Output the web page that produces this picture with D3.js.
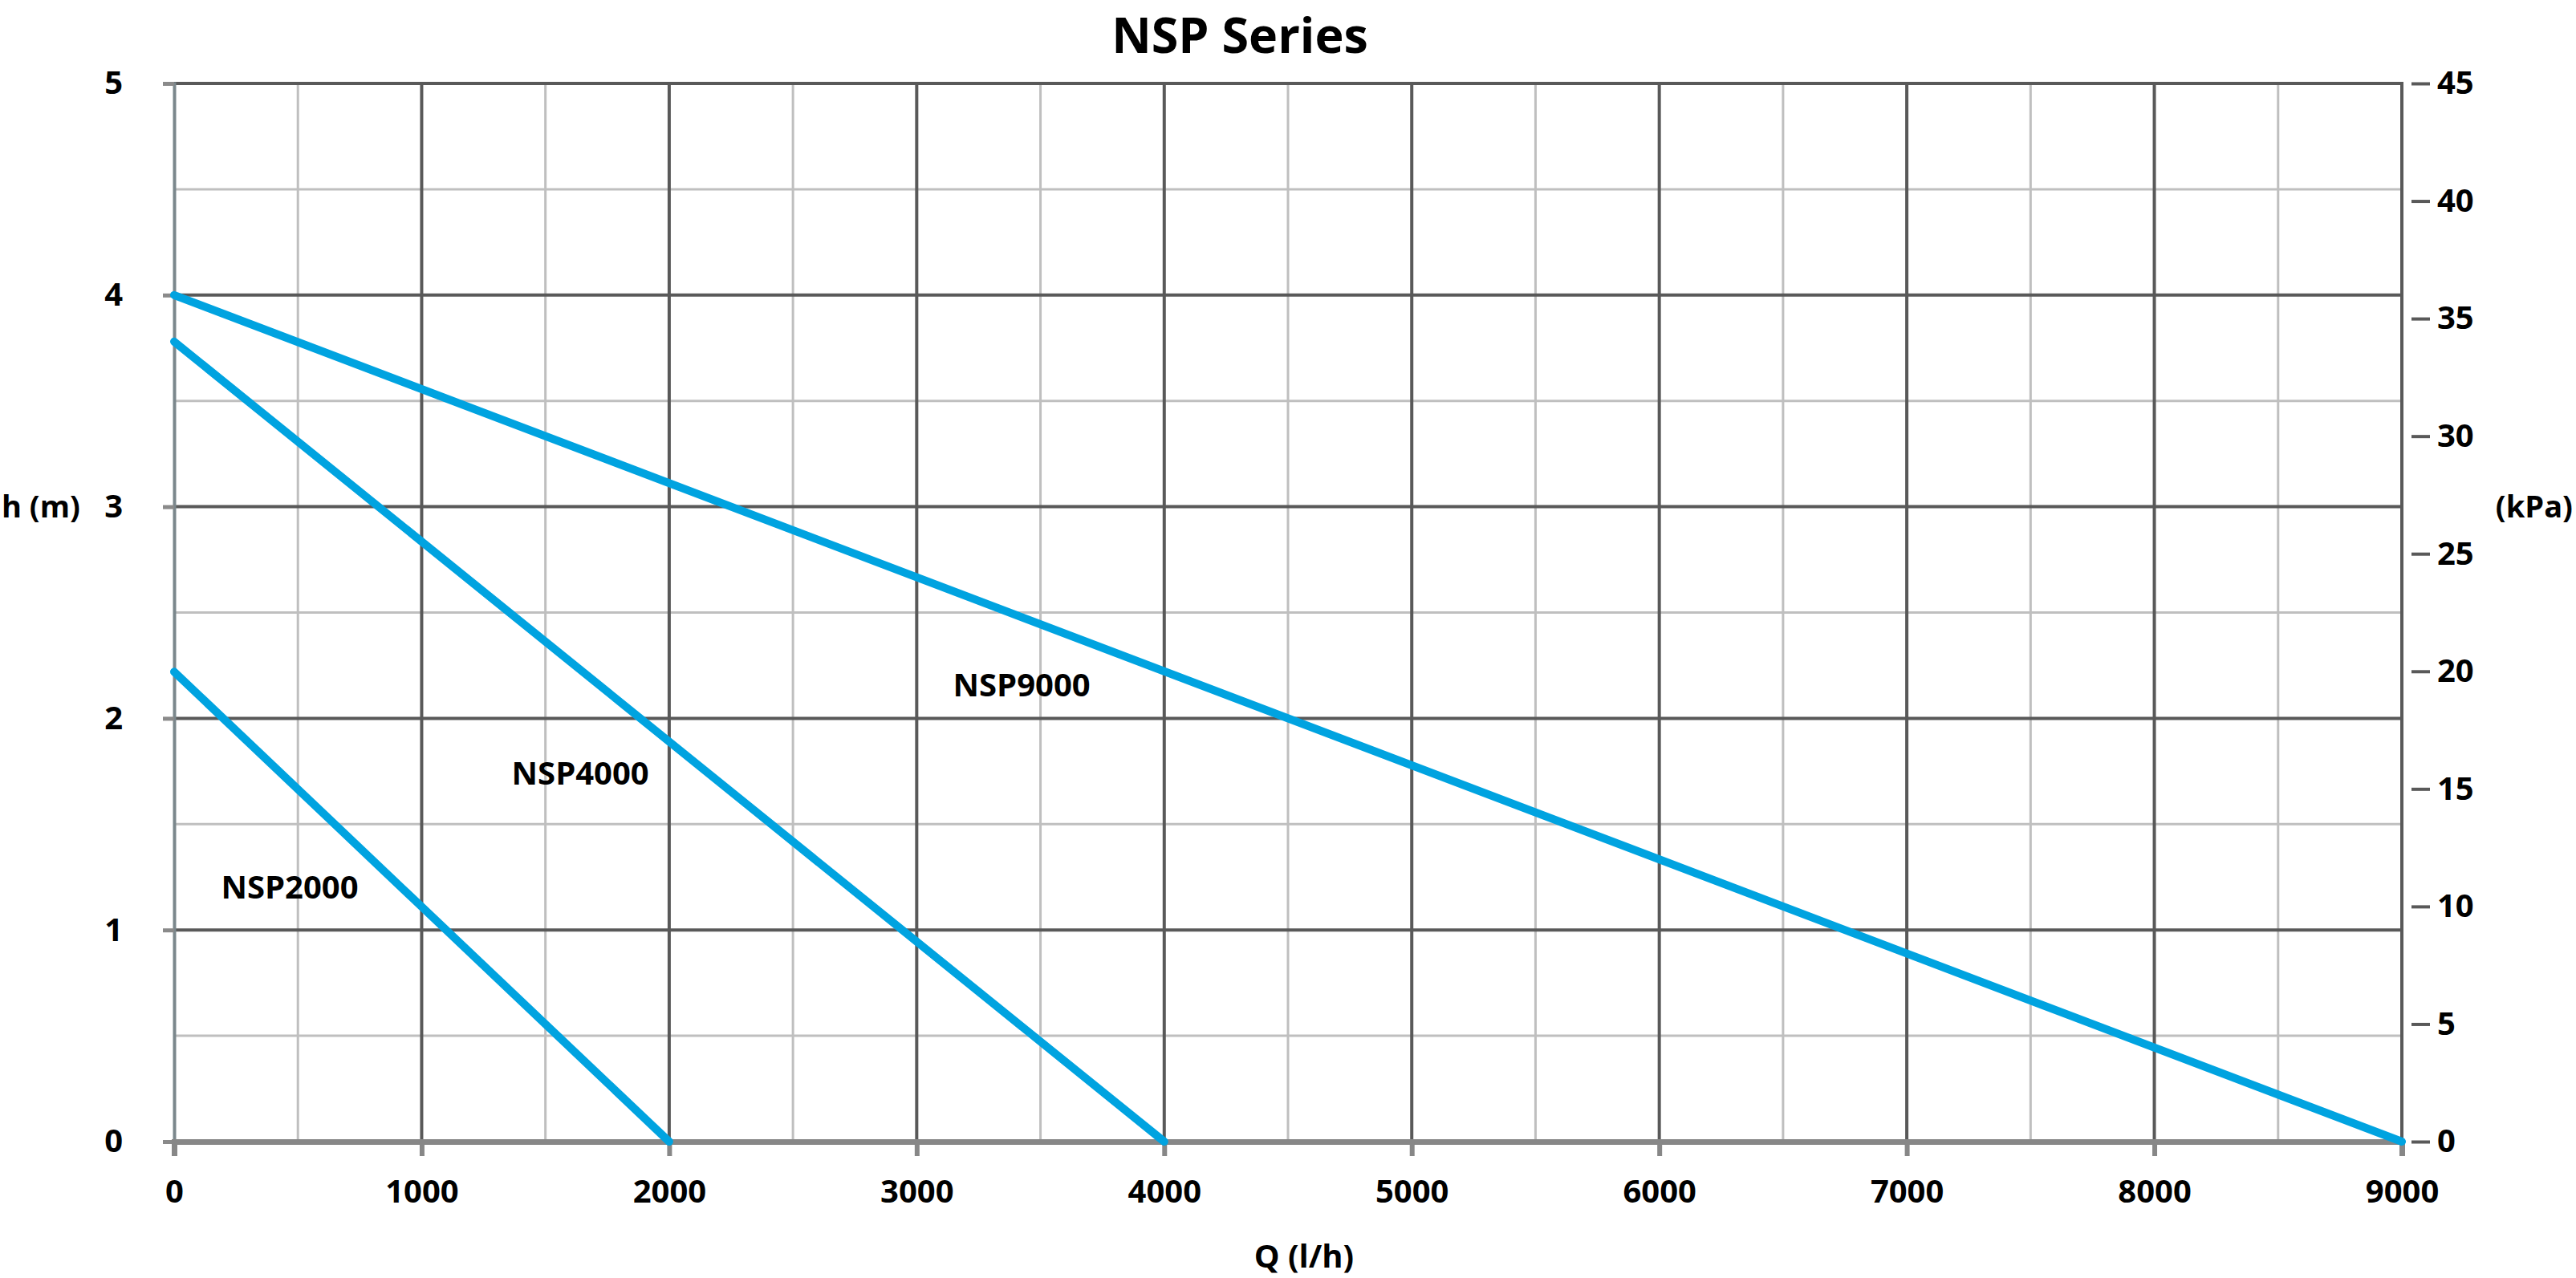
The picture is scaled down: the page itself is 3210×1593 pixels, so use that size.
<!DOCTYPE html>
<html>
<head>
<meta charset="utf-8">
<script src="https://cdn.jsdelivr.net/npm/d3@7"></script>
<style>
  body { margin: 0; background: #fff; }
  text { font-family: "Open Sans", sans-serif; font-weight: bold; fill: #000; }
</style>
</head>
<body>
<div id="chart"></div>
<script>
// pump curves, Q in l/h, h in m
const series = ["NSP2000", "NSP4000", "NSP9000"];
const flowQ = [
  [0, 2000],
  [0, 4000],
  [0, 9000]
];
const headH = [
  [2.22, 0],
  [3.78, 0],
  [4.0, 0]
];
// where the curve names sit (Q, h)
const labelQ = [467, 1641, 3424];
const labelH = [1.2, 1.74, 2.157];

const xTicks = d3.range(0, 9001, 1000);
const yTicks = [0, 1, 2, 3, 4, 5];
const kpaTicks = [0, 5, 10, 15, 20, 25, 30, 35, 40, 45];

const width = 3210, height = 1593;
const plotL = 217, plotR = 2993, plotT = 104, plotB = 1423;

const svg = d3.select("#chart").append("svg")
  .attr("width", width)
  .attr("height", height);

const x = d3.scaleLinear().domain([0, 9000]).range([plotL, plotR]);
const y = d3.scaleLinear().domain([0, 5]).range([plotB, plotT]);
const yk = d3.scaleLinear().domain([0, 45]).range([plotB, plotT]);

// minor grid
svg.append("g")
  .selectAll("line")
  .data(d3.range(500, 9000, 1000))
  .join("line")
  .attr("x1", d => x(d)).attr("x2", d => x(d))
  .attr("y1", plotT).attr("y2", plotB)
  .attr("stroke", "#bfbfbf").attr("stroke-width", 3);

svg.append("g")
  .selectAll("line")
  .data(d3.range(0.5, 5, 1))
  .join("line")
  .attr("x1", plotL).attr("x2", plotR)
  .attr("y1", d => y(d)).attr("y2", d => y(d))
  .attr("stroke", "#bfbfbf").attr("stroke-width", 3);

// major grid
svg.append("g")
  .selectAll("line")
  .data(xTicks.slice(1))
  .join("line")
  .attr("x1", d => x(d)).attr("x2", d => x(d))
  .attr("y1", plotT).attr("y2", plotB)
  .attr("stroke", "#595959").attr("stroke-width", 4);

svg.append("g")
  .selectAll("line")
  .data(yTicks.slice(1))
  .join("line")
  .attr("x1", plotL).attr("x2", plotR)
  .attr("y1", d => y(d)).attr("y2", d => y(d))
  .attr("stroke", "#595959").attr("stroke-width", 4);

// left axis
const yAxis = svg.append("g")
  .attr("transform", `translate(${plotL},0)`)
  .call(d3.axisLeft(y).tickValues(yTicks).tickSize(14).tickPadding(50).tickFormat(d3.format("d")));
yAxis.select(".domain").attr("stroke", "#7b878c").attr("stroke-width", 4);
yAxis.selectAll(".tick line").attr("stroke", "#8a8a8a").attr("stroke-width", 5);
yAxis.selectAll(".tick text").attr("font-size", 40).attr("font-family", "Open Sans").attr("font-weight", "bold").attr("fill", "#000");

// bottom axis
const xAxis = svg.append("g")
  .attr("transform", `translate(0,${plotB})`)
  .call(d3.axisBottom(x).tickValues(xTicks).tickSize(18).tickPadding(30).tickFormat(d3.format("d")));
xAxis.select(".domain").attr("stroke", "#878787").attr("stroke-width", 7);
xAxis.selectAll(".tick line").attr("stroke", "#878787").attr("stroke-width", 6);
xAxis.selectAll(".tick text").attr("font-size", 40).attr("font-family", "Open Sans").attr("font-weight", "bold").attr("fill", "#000");

// right border + kPa axis
svg.append("line")
  .attr("x1", plotR).attr("x2", plotR)
  .attr("y1", plotT - 2).attr("y2", plotB)
  .attr("stroke", "#595959").attr("stroke-width", 4);

const kAxis = svg.append("g")
  .attr("transform", `translate(${plotR + 12},0)`)
  .call(d3.axisRight(yk).tickValues(kpaTicks).tickSize(23).tickPadding(9));
kAxis.select(".domain").remove();
kAxis.selectAll(".tick line").attr("stroke", "#595959").attr("stroke-width", 4);
kAxis.selectAll(".tick text").attr("font-size", 40).attr("font-family", "Open Sans").attr("font-weight", "bold").attr("fill", "#000");

// curves
const line = d3.line().x(d => x(d[0])).y(d => y(d[1]));
series.forEach((name, i) => {
  const pts = flowQ[i].map((q, j) => [q, headH[i][j]]);
  svg.append("path")
    .datum(pts)
    .attr("d", line)
    .attr("fill", "none")
    .attr("stroke", "#00a3e0")
    .attr("stroke-width", 10)
    .attr("stroke-linecap", "round");

  svg.append("text")
    .attr("x", x(labelQ[i]))
    .attr("y", y(labelH[i]))
    .attr("dy", "0.35em")
    .attr("text-anchor", "middle")
    .attr("font-size", 40)
    .text(name);
});

// titles
svg.append("text")
  .attr("x", 1545).attr("y", 66)
  .attr("text-anchor", "middle")
  .attr("font-size", 61)
  .text("NSP Series");

svg.append("text")
  .attr("x", 1625).attr("y", 1580)
  .attr("text-anchor", "middle")
  .attr("font-size", 40)
  .text("Q (l/h)");

svg.append("text")
  .attr("x", 2).attr("y", 632)
  .attr("dy", "0.35em")
  .attr("font-size", 38)
  .text("h (m)");

svg.append("text")
  .attr("x", 3206).attr("y", 632)
  .attr("dy", "0.35em")
  .attr("text-anchor", "end")
  .attr("font-size", 38)
  .text("(kPa)");
</script>
</body>
</html>
